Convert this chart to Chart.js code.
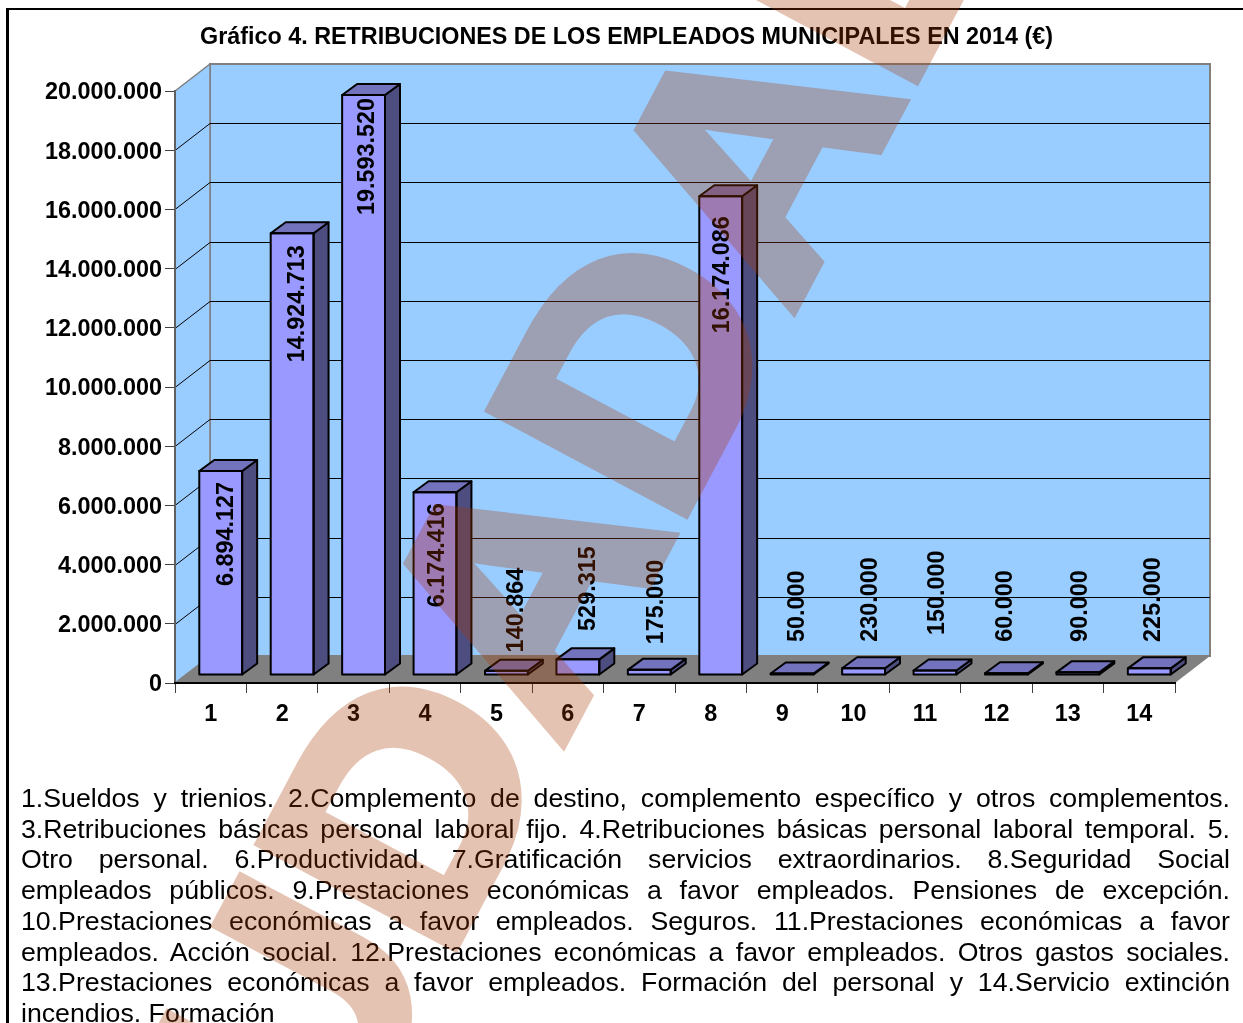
<!DOCTYPE html>
<html lang="es">
<head>
<meta charset="utf-8">
<title>Gráfico 4</title>
<script src="https://cdn.jsdelivr.net/npm/chart.js@4/dist/chart.umd.min.js"></script>
<style>
  html, body { margin: 0; padding: 0; background: #fff; overflow: hidden; }
  #page { position: relative; width: 1243px; height: 1023px; overflow: hidden; }
  #frame { position: absolute; left: 6px; top: 8px; width: 1300px; height: 1100px; border: 2px solid #000; border-left-width: 3px; }
  #chart { position: absolute; left: 0; top: 0; }
  #notes {
    position: absolute; left: 21px; top: 783px; width: 1209px; margin: 0;
    font: 26.7px/30.7px "Liberation Sans", Arial, sans-serif; color: #000;
  }
  #notes span { display: block; white-space: normal; text-align: justify; text-align-last: justify; }
  #notes span:last-child { text-align-last: left; }
  #stamp { position: absolute; left: 0; top: 0; pointer-events: none; opacity: 0.3; }
  #stamp text { font: bold 340px "Liberation Sans", Arial, sans-serif; fill: #a83a00; stroke: #a83a00; stroke-width: 14px; }
</style>
</head>
<body>
<div id="page">
  <div id="frame"></div>
  <canvas id="chart" width="1243" height="1023"></canvas>
  <p id="notes">
    <span>1.Sueldos y trienios. 2.Complemento de destino, complemento específico y otros complementos.</span>
    <span>3.Retribuciones básicas personal laboral fijo. 4.Retribuciones básicas personal laboral temporal. 5.</span>
    <span>Otro personal. 6.Productividad. 7.Gratificación servicios extraordinarios. 8.Seguridad Social</span>
    <span>empleados públicos. 9.Prestaciones económicas a favor empleados. Pensiones de excepción.</span>
    <span>10.Prestaciones económicas a favor empleados. Seguros. 11.Prestaciones económicas a favor</span>
    <span>empleados. Acción social. 12.Prestaciones económicas a favor empleados. Otros gastos sociales.</span>
    <span>13.Prestaciones económicas a favor empleados. Formación del personal y 14.Servicio extinción</span>
    <span>incendios. Formación</span>
  </p>
  <svg id="stamp" width="1243" height="1023"><text transform="translate(328.5 1181) rotate(-62) scale(1 0.93)">UDADAD</text></svg>
</div>
<script>
const categories = ["1", "2", "3", "4", "5", "6", "7", "8", "9", "10", "11", "12", "13", "14"];
const retribuciones = [6894127, 14924713, 19593520, 6174416, 140864, 529315, 175000, 16174086, 50000, 230000, 150000, 60000, 90000, 225000];

// hand placed data labels, relative to the top of each bar's front face
const labelShiftX = [6, 5, 4, 3, 10, 11, 7, 2, 5, 7, 3, -1, 3, 4];
const labelShiftY = [11, 12, 3, 11, -103, -113, -110, 20, -103, -111, -120, -103, -102, -111];

// 3D look: wall depth, where bars sit inside it, and the bars' own depth
const WALL_DX = 35, WALL_DY = -27;
const BAR_DX = 10, BAR_DY = -8;
const DEPTH_DX = 15, DEPTH_DY = -11;

function dots(value) {
  return String(value).replace(/\B(?=(\d{3})+$)/g, ".");
}

function poly(ctx, points, fill, stroke, lineWidth) {
  ctx.beginPath();
  points.forEach(function (p, i) {
    if (i === 0) ctx.moveTo(p[0], p[1]);
    else ctx.lineTo(p[0], p[1]);
  });
  ctx.closePath();
  if (fill) {
    ctx.fillStyle = fill;
    ctx.fill();
  }
  if (stroke) {
    ctx.strokeStyle = stroke;
    ctx.lineWidth = lineWidth;
    ctx.stroke();
  }
}

const walls3d = {
  id: "walls3d",
  afterLayout: function (chart) {
    // the title is centred a little right of the page, not over the plot
    chart.titleBlock.left = 0;
    chart.titleBlock.right = 1253;
  },
  beforeDraw: function (chart) {
    const ctx = chart.ctx;
    const a = chart.chartArea;
    const y = chart.scales.y;
    ctx.save();
    // back and side walls
    poly(ctx, [[a.left + WALL_DX, a.top + WALL_DY], [a.right + WALL_DX, a.top + WALL_DY], [a.right + WALL_DX, a.bottom + WALL_DY], [a.left + WALL_DX, a.bottom + WALL_DY]], "#99ccff", "#808080", 2);
    poly(ctx, [[a.left, a.top], [a.left + WALL_DX, a.top + WALL_DY], [a.left + WALL_DX, a.bottom + WALL_DY], [a.left, a.bottom]], "#99ccff", "#808080", 1.5);
    // grid lines wrap round from side wall to back wall
    ctx.strokeStyle = "#000";
    ctx.lineWidth = 1;
    y.ticks.forEach(function (t) {
      if (t.value === 0 || t.value === y.max) return;
      const py = Math.round(y.getPixelForValue(t.value)) + 0.5;
      ctx.beginPath();
      ctx.moveTo(a.left, py);
      ctx.lineTo(a.left + WALL_DX, py + WALL_DY);
      ctx.lineTo(a.right + WALL_DX, py + WALL_DY);
      ctx.stroke();
    });
    // floor
    poly(ctx, [[a.left, a.bottom], [a.right, a.bottom], [a.right + WALL_DX, a.bottom + WALL_DY], [a.left + WALL_DX, a.bottom + WALL_DY]], "#808080");
    ctx.restore();
  },
  beforeDatasetDraw: function (chart) {
    chart.ctx.save();
    chart.ctx.translate(BAR_DX, BAR_DY);
  },
  afterDatasetDraw: function (chart) {
    const ctx = chart.ctx;
    ctx.restore();
    ctx.save();
    ctx.lineJoin = "round";
    const bars = chart.getDatasetMeta(0).data;
    bars.forEach(function (bar) {
      const r = bar.x + bar.width / 2 + BAR_DX;
      const l = bar.x - bar.width / 2 + BAR_DX;
      const t = bar.y + BAR_DY;
      const b = bar.base + BAR_DY;
      poly(ctx, [[r, t], [r + DEPTH_DX, t + DEPTH_DY], [r + DEPTH_DX, b + DEPTH_DY], [r, b]], "#4d4d80", "#000", 2);
      poly(ctx, [[l, t], [l + DEPTH_DX, t + DEPTH_DY], [r + DEPTH_DX, t + DEPTH_DY], [r, t]], "#7373bd", "#000", 2);
      poly(ctx, [[l, t], [r, t], [r, b], [l, b]], null, "#000", 2);
    });
    // data labels, rotated
    ctx.fillStyle = "#000";
    ctx.font = 'bold 23.4px "Liberation Sans", Arial, sans-serif';
    ctx.textAlign = "right";
    ctx.textBaseline = "middle";
    bars.forEach(function (bar, i) {
      ctx.save();
      ctx.translate(bar.x + BAR_DX + labelShiftX[i], bar.y + BAR_DY + labelShiftY[i]);
      ctx.rotate(-Math.PI / 2);
      ctx.fillText(dots(retribuciones[i]), 0, 0);
      ctx.restore();
    });
    ctx.restore();
  },
};

Chart.defaults.font.family = '"Liberation Sans", Arial, sans-serif';
Chart.defaults.color = "#000";

new Chart(document.getElementById("chart").getContext("2d"), {
  type: "bar",
  data: {
    labels: categories,
    datasets: [
      {
        data: retribuciones,
        backgroundColor: "#9999ff",
        barPercentage: 0.6,
        categoryPercentage: 1,
      },
    ],
  },
  options: {
    responsive: false,
    animation: false,
    layout: { padding: { left: 0, right: 68, top: 0, bottom: 0 } },
    plugins: {
      legend: { display: false },
      tooltip: { enabled: false },
      title: {
        display: true,
        text: "Gráfico 4. RETRIBUCIONES DE LOS EMPLEADOS MUNICIPALES EN 2014 (€)",
        font: { size: 23.35, weight: "bold" },
        color: "#000",
        padding: { top: 24, bottom: 39 },
      },
    },
    scales: {
      y: {
        min: 0,
        max: 20000000,
        afterFit: function (scale) {
          scale.width = 175;
        },
        ticks: {
          stepSize: 2000000,
          padding: 3,
          labelOffset: 2,
          color: "#000",
          font: { size: 23.4, weight: "bold" },
          callback: function (value) {
            return dots(value);
          },
        },
        grid: { drawOnChartArea: false, tickLength: 10, color: "#404040" },
        border: { color: "#606060", width: 2 },
      },
      x: {
        afterFit: function (scale) {
          scale.height = 340;
        },
        ticks: {
          padding: 8,
          color: "#000",
          maxRotation: 0,
          autoSkip: false,
          font: { size: 23.4, weight: "bold" },
        },
        grid: { drawOnChartArea: false, tickLength: 10, color: "#404040", offset: true },
        border: { color: "#000", width: 2 },
      },
    },
  },
  plugins: [walls3d],
});
</script>
</body>
</html>
